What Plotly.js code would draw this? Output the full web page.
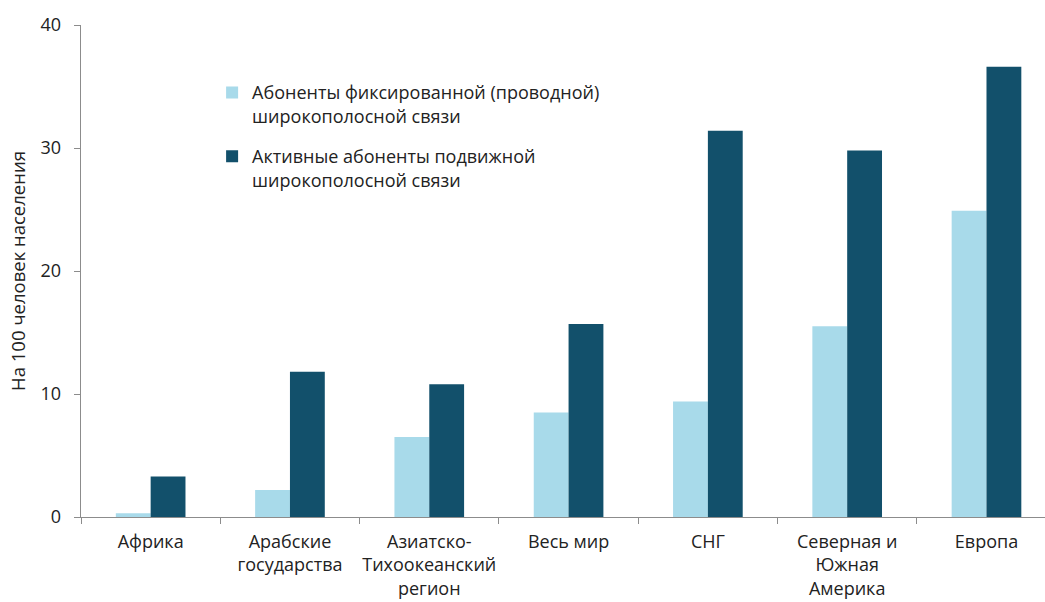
<!DOCTYPE html>
<html>
<head>
<meta charset="utf-8">
<script src="https://cdn.plot.ly/plotly-3.0.1.min.js"></script>
<style>html,body{margin:0;padding:0;background:#fff;}#chart{width:1045px;height:602px;}</style>
</head>
<body>
<div id="chart"></div>
<script>
const categories = ["Африка", "Арабские<br>государства", "Азиатско-<br>Тихоокеанский<br>регион", "Весь мир", "СНГ", "Северная и<br>Южная<br>Америка", "Европа"];
const fixedValues = [0.3, 2.2, 6.5, 8.5, 9.4, 15.5, 24.9];
const mobileValues = [3.3, 11.8, 10.8, 15.7, 31.4, 29.8, 36.6];
const fixedName = "Абоненты фиксированной (проводной)<br>широкополосной связи";
const mobileName = "Активные абоненты подвижной<br>широкополосной связи";
const yTitle = "На 100 человек населения";
const yTicks = [0, 10, 20, 30, 40];

const font = "'Open Sans', 'Noto Sans', sans-serif";

const traces = [
  {type: "bar", name: fixedName, legendgroup: "a", x: categories, y: fixedValues, marker: {color: "#a8daea"}},
  {type: "bar", name: mobileName, legendgroup: "b", x: categories, y: mobileValues, marker: {color: "#12506b"}}
];

const layout = {
  width: 1045, height: 602,
  margin: {l: 81, r: 0, t: 25, b: 85, pad: 0},
  paper_bgcolor: "#fff", plot_bgcolor: "#fff",
  font: {family: font, size: 18, color: "#222"},
  barmode: "group", bargap: 0.5, bargroupgap: 0,
  showlegend: true,
  legend: {x: 0.136, y: 0.9, xanchor: "left", yanchor: "top", valign: "top",
    font: {family: font, size: 18, color: "#222"}, tracegroupgap: 14, itemwidth: 30, bgcolor: "rgba(0,0,0,0)"},
  xaxis: {
    range: [-0.5, 6.42], type: "category",
    showline: true, linecolor: "#8c8c8c", linewidth: 1.3,
    ticks: "outside", tickson: "boundaries", ticklen: 6, tickcolor: "#8c8c8c",
    showgrid: false, zeroline: false, fixedrange: true, automargin: false,
    tickangle: 0, ticklabelstandoff: 8,
    tickfont: {family: font, size: 18, color: "#222"}
  },
  yaxis: {
    range: [0, 40], tickvals: yTicks, automargin: false,
    showline: true, linecolor: "#8c8c8c", linewidth: 1.3,
    ticks: "outside", ticklen: 6, tickcolor: "#8c8c8c",
    showgrid: false, zeroline: false, ticklabelstandoff: 9,
    tickfont: {family: font, size: 18, color: "#222"},
    title: {text: yTitle, font: {family: font, size: 18.5, color: "#222"}, standoff: 10}
  }
};

Plotly.newPlot("chart", traces, layout, {displayModeBar: false, staticPlot: true});
</script>
</body>
</html>
